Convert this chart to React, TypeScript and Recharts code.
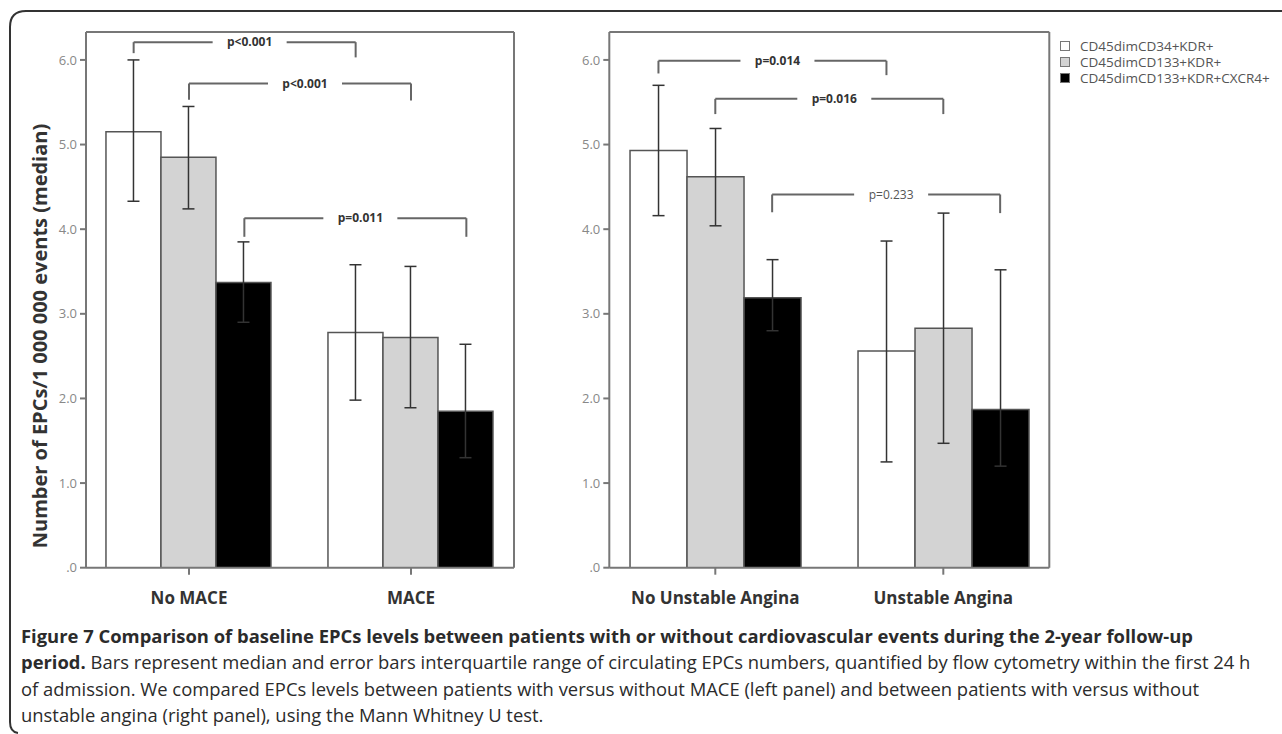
import React from "react";
import { BarChart, Bar, XAxis, YAxis, ErrorBar, ReferenceLine } from "recharts";

// series (legend order)
const seriesNames = ["CD45dimCD34+KDR+", "CD45dimCD133+KDR+", "CD45dimCD133+KDR+CXCR4+"];
const seriesFills = ["#ffffff", "#d3d3d3", "#000000"];

// left panel: MACE
const maceGroups = ["No MACE", "MACE"];
const maceMedian = [
  [5.15, 2.78],
  [4.85, 2.72],
  [3.37, 1.85],
];
const maceQ1 = [
  [4.33, 1.98],
  [4.24, 1.89],
  [2.9, 1.3],
];
const maceQ3 = [
  [6.0, 3.58],
  [5.45, 3.56],
  [3.85, 2.64],
];
const maceTests = [
  { s: 0, label: "p<0.001", y: 6.21, dropL: 6.08, dropR: 6.03, bold: true },
  { s: 1, label: "p<0.001", y: 5.72, dropL: 5.53, dropR: 5.52, bold: true },
  { s: 2, label: "p=0.011", y: 4.13, dropL: 3.91, dropR: 3.91, bold: true },
];

// right panel: unstable angina
const anginaGroups = ["No Unstable Angina", "Unstable Angina"];
const anginaMedian = [
  [4.93, 2.56],
  [4.62, 2.83],
  [3.19, 1.87],
];
const anginaQ1 = [
  [4.16, 1.25],
  [4.04, 1.47],
  [2.8, 1.2],
];
const anginaQ3 = [
  [5.7, 3.86],
  [5.19, 4.19],
  [3.64, 3.52],
];
const anginaTests = [
  { s: 0, label: "p=0.014", y: 5.99, dropL: 5.84, dropR: 5.82, bold: true },
  { s: 1, label: "p=0.016", y: 5.54, dropL: 5.36, dropR: 5.36, bold: true },
  { s: 2, label: "p=0.233", y: 4.41, dropL: 4.2, dropR: 4.19, bold: false },
];

const yTicks = [0, 1, 2, 3, 4, 5, 6];
const yLabel = "Number of EPCs/1 000 000 events (median)";

const FONT = "'Open Sans', 'Noto Sans', sans-serif";
const TOP = 32;
const PLOT_BOTTOM = 567.7;
const CHART_H = 620;
const X_AXIS_H = 40;
const PAD = -8;
const GAP_FRAC = 0.126;
const YMAX = 6.33;
const LINE = "#777";

function buildRows(groups: string[], med: number[][], q1: number[][], q3: number[][]) {
  return groups.map((g, i) => {
    const row: any = { group: g, pos: i };
    med.forEach((m, s) => {
      row[`s${s}`] = m[i];
      row[`e${s}`] = [m[i] - q1[s][i], q3[s][i] - m[i]];
    });
    return row;
  });
}

const Panel = ({ rows, tests, left, width, axisWidth, plotW }: any) => {
  const band = (plotW - 2 * PAD) / 2;
  const edge = (PAD + band / 2) / band;
  const barStep = (1 - 2 * GAP_FRAC) / 3;
  const gapHalf = 37 / band;
  const shift = 5 / band;

  const bracketLines: any[] = [];
  tests.forEach((b: any, i: number) => {
    const x0 = (b.s - 1) * barStep;
    const x1 = 1 + (b.s - 1) * barStep;
    const mid = (x0 + x1) / 2 + shift;
    const common = { xAxisId: "n", stroke: "#666", strokeWidth: 2, ifOverflow: "visible" as const };
    bracketLines.push(
      <ReferenceLine key={`a${i}`} {...common} segment={[{ x: x0, y: b.dropL }, { x: x0, y: b.y }]} />,
      <ReferenceLine key={`b${i}`} {...common} segment={[{ x: x0, y: b.y }, { x: mid - gapHalf, y: b.y }]} />,
      <ReferenceLine key={`c${i}`} {...common} segment={[{ x: mid + gapHalf, y: b.y }, { x: x1, y: b.y }]} />,
      <ReferenceLine key={`d${i}`} {...common} segment={[{ x: x1, y: b.y }, { x: x1, y: b.dropR }]} />,
      <ReferenceLine
        key={`t${i}`}
        {...common}
        stroke="none"
        segment={[{ x: mid - gapHalf, y: b.y }, { x: mid + gapHalf, y: b.y }]}
        label={{
          value: b.label,
          position: "center",
          fill: b.bold ? "#333" : "#555",
          fontSize: 12,
          fontWeight: b.bold ? 700 : 400,
        }}
      />
    );
  });

  return (
    <div style={{ position: "absolute", left, top: 0 }}>
      <BarChart
        width={width}
        height={CHART_H}
        data={rows}
        margin={{ top: TOP, right: width - axisWidth - plotW, left: 0, bottom: CHART_H - PLOT_BOTTOM - X_AXIS_H }}
        barCategoryGap={`${GAP_FRAC * 100}%`}
        barGap={0}
      >
        <XAxis
          dataKey="group"
          padding={{ left: PAD, right: PAD }}
          height={X_AXIS_H}
          axisLine={{ stroke: LINE, strokeWidth: 2 }}
          tickLine={{ stroke: LINE, strokeWidth: 2 }}
          tickSize={7}
          tickMargin={17}
          tick={{ fill: "#333", fontSize: 17, fontWeight: 700 }}
        />
        <XAxis
          xAxisId="n"
          dataKey="pos"
          type="number"
          domain={[-edge, 1 + edge]}
          allowDataOverflow
          hide
        />
        <YAxis
          width={axisWidth}
          domain={[0, YMAX]}
          ticks={yTicks}
          allowDataOverflow
          axisLine={{ stroke: LINE, strokeWidth: 2 }}
          tickLine={{ stroke: LINE, strokeWidth: 2 }}
          tickSize={6}
          tickMargin={3}
          tick={{ fill: "#888", fontSize: 13 }}
          tickFormatter={(v: number) => (v === 0 ? ".0" : v.toFixed(1))}
        />
        <ReferenceLine y={YMAX} stroke={LINE} strokeWidth={2} ifOverflow="visible" />
        <ReferenceLine xAxisId="n" x={1 + edge} stroke={LINE} strokeWidth={2} ifOverflow="visible" />
        {seriesNames.map((name, s) => (
          <Bar
            key={name}
            name={name}
            dataKey={`s${s}`}
            fill={seriesFills[s]}
            stroke="#555"
            strokeWidth={1.5}
            isAnimationActive={false}
          >
            <ErrorBar dataKey={`e${s}`} width={6} stroke="#333" strokeWidth={1.5} />
          </Bar>
        ))}
        {bracketLines}
      </BarChart>
    </div>
  );
};

const maceRows = buildRows(maceGroups, maceMedian, maceQ1, maceQ3);
const anginaRows = buildRows(anginaGroups, anginaMedian, anginaQ1, anginaQ3);

export default function App() {
  return (
    <div
      style={{
        position: "absolute",
        left: 0,
        top: 0,
        width: 1282,
        height: 734,
        background: "#fff",
        fontFamily: FONT,
        overflow: "hidden",
      }}
    >
      <svg width={1282} height={734} style={{ position: "absolute", left: 0, top: 0 }}>
        <path d="M 1282 11 H 26 Q 10 11 10 27 V 722 Q 10 732 18 733" fill="none" stroke="#333" strokeWidth={2} />
        <text
          transform="translate(47, 336) rotate(-90)"
          textAnchor="middle"
          fontSize={20}
          fontWeight={700}
          fill="#333"
          fontFamily={FONT}
        >
          {yLabel}
        </text>
      </svg>

      <Panel rows={maceRows} tests={maceTests} left={0} width={560} axisWidth={86} plotW={428} />
      <Panel rows={anginaRows} tests={anginaTests} left={560} width={560} axisWidth={49.3} plotW={440} />

      <div style={{ position: "absolute", left: 1060, top: 38 }}>
        {seriesNames.map((name, s) => (
          <div key={name} style={{ display: "flex", alignItems: "center", height: 16.2 }}>
            <div
              style={{
                width: 8,
                height: 8,
                background: seriesFills[s],
                border: "1px solid #777",
              }}
            />
            <span style={{ marginLeft: 10, fontSize: 13.5, color: "#555", lineHeight: "16px" }}>{name}</span>
          </div>
        ))}
      </div>

      <div
        style={{
          position: "absolute",
          left: 21,
          top: 623,
          fontSize: 18.4,
          lineHeight: "26.3px",
          color: "#2b2b2b",
          whiteSpace: "nowrap",
        }}
      >
        <b>
          Figure 7 Comparison of baseline EPCs levels between patients with or without cardiovascular events during the
          2-year follow-up
        </b>
        <br />
        <b>period.</b> Bars represent median and error bars interquartile range of circulating EPCs numbers, quantified by
        flow cytometry within the first 24 h
        <br />
        of admission. We compared EPCs levels between patients with versus without MACE (left panel) and between patients
        with versus without
        <br />
        unstable angina (right panel), using the Mann Whitney U test.
      </div>
    </div>
  );
}
